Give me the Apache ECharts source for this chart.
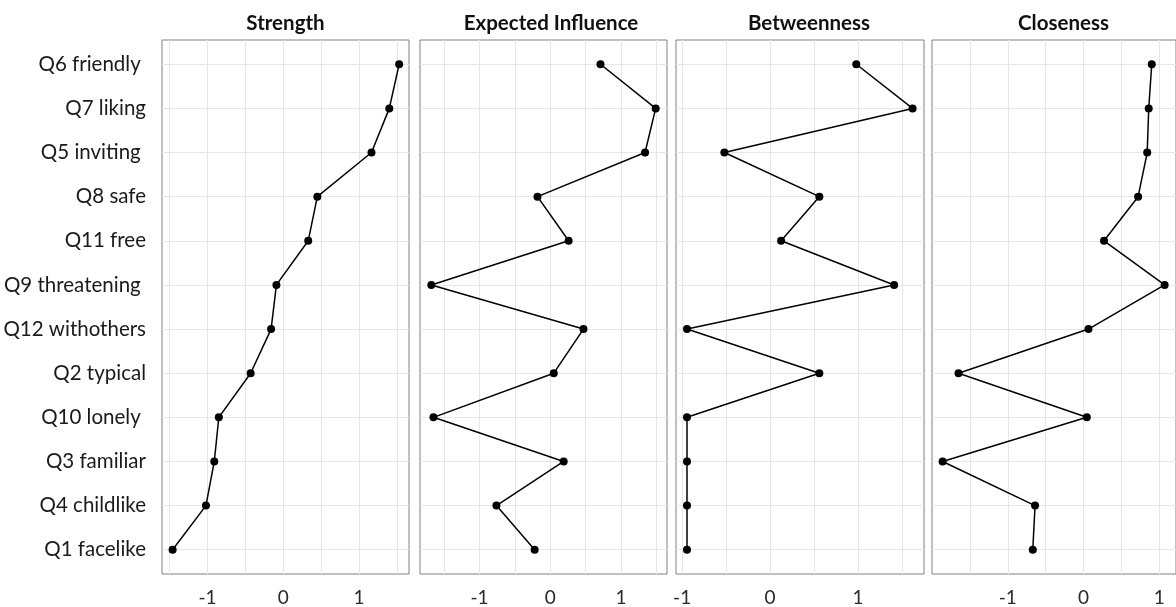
<!DOCTYPE html>
<html>
<head>
<meta charset="utf-8">
<script src="https://cdn.jsdelivr.net/npm/echarts@6/dist/echarts.min.js"></script>
<style>
  html, body { margin: 0; padding: 0; background: #fff; }
  #main { width: 1176px; height: 607px; }
</style>
</head>
<body>
<div id="main"></div>
<script>
// items, top to bottom
const categories = ['Q6 friendly ', 'Q7 liking', 'Q5 inviting ', 'Q8 safe', 'Q11 free', 'Q9 threatening ',
  'Q12 withothers', 'Q2 typical', 'Q10 lonely ', 'Q3 familiar', 'Q4 childlike', 'Q1 facelike'];

const strength = [1.53, 1.40, 1.165, 0.45, 0.33, -0.09, -0.16, -0.43, -0.85, -0.91, -1.02, -1.46];
const expectedInfluence = [0.71, 1.49, 1.34, -0.18, 0.26, -1.68, 0.47, 0.05, -1.65, 0.19, -0.76, -0.22];
const betweenness = [0.98, 1.62, -0.52, 0.56, 0.125, 1.41, -0.945, 0.56, -0.945, -0.945, -0.945, -0.945];
const closeness = [0.90, 0.86, 0.84, 0.72, 0.27, 1.07, 0.065, -1.65, 0.043, -1.86, -0.64, -0.67];

const tickValues = [-1, 0, 1];
const gridValues = [-1.5, -1, -0.5, 0, 0.5, 1, 1.5];
const rowIndex = categories.map((c, k) => k);

const panels = [
  { title: 'Strength', data: strength, left: 162, width: 247, min: -1.60, max: 1.66, titleX: 280.5 },
  { title: 'Expected Influence', data: expectedInfluence, left: 420, width: 247, min: -1.84, max: 1.65, titleX: 546 },
  { title: 'Betweenness', data: betweenness, left: 676, width: 248, min: -1.07, max: 1.75, titleX: 804 },
  { title: 'Closeness', data: closeness, left: 932, width: 250, min: -2.0, max: 1.22, titleX: 1058.5 }
];

const FONT = 'Lato, "Open Sans", sans-serif';
const gridColor = '#e6e6e6';
const PAD = 0.55;

const myChart = echarts.init(document.getElementById('main'), null, { renderer: 'canvas' });

const option = {
  animation: false,
  backgroundColor: '#fff',
  title: panels.map(p => ({
    text: p.title,
    left: p.titleX,
    top: 8,
    textAlign: 'center',
    textStyle: { fontFamily: FONT, fontWeight: 'bold', fontSize: 20.5, color: '#111' }
  })),
  grid: panels.map(p => ({
    left: p.left, width: p.width, top: 40, height: 535.5,
    show: true, borderColor: '#808080', borderWidth: 1, backgroundColor: '#fff',
    containLabel: false
  })),
  xAxis: panels.map((p, i) => ({
    type: 'value', gridIndex: i, min: p.min, max: p.max,
    axisLine: { show: false },
    splitLine: { show: false },
    axisTick: { show: true, customValues: tickValues, length: 4, lineStyle: { color: '#444' } },
    axisLabel: {
      customValues: tickValues, margin: 14,
      fontFamily: FONT, fontSize: 19, color: '#2a2a2a'
    }
  })),
  yAxis: panels.map((p, i) => ({
    type: 'value', gridIndex: i, inverse: true,
    min: -PAD, max: categories.length - 1 + PAD,
    axisLine: { show: false },
    splitLine: { show: false },
    axisTick: { show: i === 0, customValues: rowIndex, length: 5, lineStyle: { color: '#444' } },
    axisLabel: {
      show: i === 0, margin: 16, customValues: rowIndex,
      formatter: v => categories[Math.round(v)] || '',
      fontFamily: FONT, fontSize: 20.5, color: '#1a1a1a'
    }
  })),
  series: []
};

panels.forEach((p, i) => {
  // background grid lines
  option.series.push({
    type: 'line', xAxisIndex: i, yAxisIndex: i, data: [], z: 1, silent: true,
    markLine: {
      z: 1, silent: true, symbol: 'none', animation: false,
      label: { show: false },
      emphasis: { disabled: true },
      lineStyle: { color: gridColor, width: 1, type: 'solid' },
      data: gridValues.filter(v => v > p.min && v < p.max).map(v => ({ xAxis: v }))
        .concat(rowIndex.map(k => ({ yAxis: k })))
    }
  });
  option.series.push({
    name: p.title, type: 'line', xAxisIndex: i, yAxisIndex: i, z: 3,
    data: p.data.map((v, k) => [v, rowIndex[k]]),
    symbol: 'circle', symbolSize: 8, showSymbol: true,
    itemStyle: { color: '#000', borderWidth: 0 },
    lineStyle: { color: '#000', width: 1.5 }
  });
});

myChart.setOption(option);
</script>
</body>
</html>
